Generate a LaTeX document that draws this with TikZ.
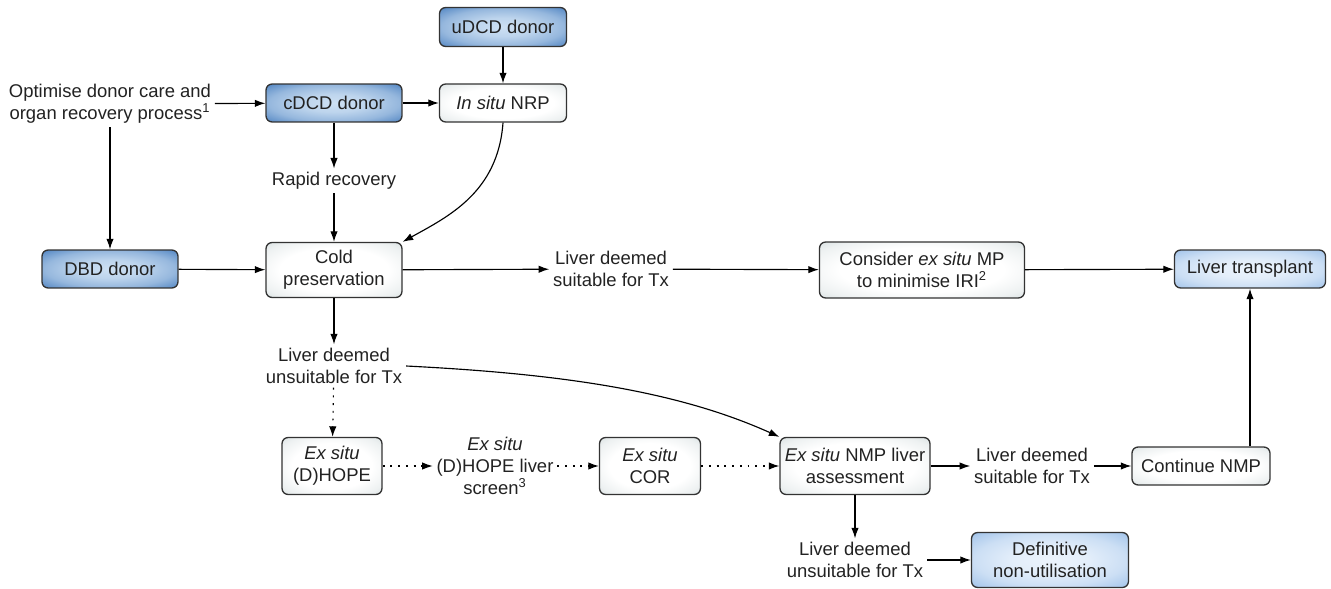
\documentclass[tikz,border=0pt]{standalone}
\usepackage{fontspec}
\setmainfont{Liberation Sans}
\usetikzlibrary{arrows.meta}

\definecolor{boxline}{HTML}{333333}
\definecolor{txtcol}{HTML}{222222}
\definecolor{donorA}{HTML}{CDE0F3}
\definecolor{donorB}{HTML}{2F6CB5}
\definecolor{goalA}{HTML}{EBF3FC}
\definecolor{goalB}{HTML}{8AB4E4}
\definecolor{procA}{HTML}{FFFFFF}
\definecolor{procB}{HTML}{D3DCDD}

\pgfdeclareradialshading{donorglow}{\pgfpoint{0bp}{0bp}}{color(0bp)=(donorA); color(12bp)=(donorA!90!donorB); color(24bp)=(donorA!65!donorB); color(32bp)=(donorA!35!donorB); color(38bp)=(donorB); color(75bp)=(donorB)}
\pgfdeclareradialshading{goalglow}{\pgfpoint{0bp}{0bp}}{color(0bp)=(goalA); color(12bp)=(goalA!92!goalB); color(24bp)=(goalA!68!goalB); color(32bp)=(goalA!38!goalB); color(38bp)=(goalB); color(75bp)=(goalB)}
\pgfdeclareradialshading{procglow}{\pgfpoint{0bp}{0bp}}{color(0bp)=(procA); color(20bp)=(procA); color(30bp)=(procA!60!procB); color(38bp)=(procB); color(75bp)=(procB)}

\tikzset{
  box/.style={draw=boxline, line width=0.75pt, rounded corners=3.5pt, align=center, inner sep=0pt, text=txtcol},
  donor/.style={box, shading=donorglow},
  proc/.style={box, shading=procglow},
  goal/.style={box, shading=goalglow},
  lbl/.style={align=center, inner sep=2pt, text=txtcol},
  arr/.style={-{Latex[length=6pt,width=4.2pt]}, line width=0.65pt},
  dotarr/.style={arr, dash pattern=on 1.1pt off 3.3pt}
}

\begin{document}
\begin{tikzpicture}[x=0.02cm, y=-0.02cm, font=\fontsize{10.5}{12.5}\selectfont]
  \useasboundingbox (0,0) rectangle (1331,588);

  % donors
  \node[donor, minimum width=2.54cm, minimum height=0.78cm] (udcd) at (503,27) {uDCD donor};
  \node[lbl] (optim) at (110,104) {Optimise donor care and\\organ recovery process\textsuperscript{1}};
  \node[donor, minimum width=2.72cm, minimum height=0.76cm] (cdcd) at (334,103) {cDCD donor};
  \node[proc, minimum width=2.54cm, minimum height=0.76cm] (nrp) at (503,103) {\textit{In situ} NRP};
  \node[lbl] (rapid) at (334,181) {Rapid recovery};
  \node[donor, minimum width=2.72cm, minimum height=0.76cm] (dbd) at (110,269) {DBD donor};

  % cold preservation row
  \node[proc, minimum width=2.72cm, minimum height=1.1cm] (cold) at (334,270) {Cold\\preservation};
  \node[lbl] (suit1) at (611,269) {Liver deemed\\suitable for Tx};
  \node[proc, minimum width=4.1cm, minimum height=1.12cm] (consider) at (922,270) {Consider \textit{ex situ} MP\\to minimise IRI\textsuperscript{2}};
  \node[goal, minimum width=3.02cm, minimum height=0.76cm] (tx) at (1250,269) {Liver transplant};

  % ex situ row
  \node[lbl] (unsuit1) at (334,366) {Liver deemed\\unsuitable for Tx};
  \node[proc, minimum width=2.0cm, minimum height=1.14cm] (dhope) at (332,466) {\textit{Ex situ}\\(D)HOPE};
  \node[lbl] (screen) at (495,466) {\textit{Ex situ}\\(D)HOPE liver\\screen\textsuperscript{3}};
  \node[proc, minimum width=2.02cm, minimum height=1.14cm] (cor) at (650,466) {\textit{Ex situ}\\COR};
  \node[proc, minimum width=3.0cm, minimum height=1.14cm] (nmp) at (855,466) {\textit{Ex situ} NMP liver\\assessment};
  \node[lbl] (suit2) at (1032,466) {Liver deemed\\suitable for Tx};
  \node[proc, minimum width=2.76cm, minimum height=0.76cm] (cont) at (1201,466) {Continue NMP};
  \node[lbl] (unsuit2) at (855,560) {Liver deemed\\unsuitable for Tx};
  \node[goal, minimum width=3.14cm, minimum height=1.1cm] (defin) at (1050,560) {Definitive\\non-utilisation};

  \draw[arr] (udcd) -- (nrp); \draw[arr] (optim) -- (cdcd); \draw[arr] (cdcd) -- (nrp);
  \draw[arr] (optim) -- (dbd); \draw[arr] (cdcd) -- (rapid); \draw[arr] (rapid) -- (cold);
  \draw[arr] (nrp.south) .. controls +(-5,70) and +(45,-25) .. (cold.north east);
  \draw[arr] (dbd) -- (cold); \draw[arr] (cold) -- (suit1); \draw[arr] (suit1) -- (consider); \draw[arr] (consider) -- (tx);
  \draw[arr] (cold) -- (unsuit1); \draw[dotarr] (unsuit1) -- (dhope);
  \draw[arr] (unsuit1.east) .. controls +(160,8) and +(-100,-45) .. (nmp.north west);
  \draw[dotarr] (dhope) -- (screen); \draw[dotarr] (screen) -- (cor); \draw[dotarr] (cor) -- (nmp);
  \draw[arr] (nmp) -- (suit2); \draw[arr] (suit2) -- (cont); \draw[arr] (tx.south |- cont.north) -- (tx.south);
  \draw[arr] (nmp) -- (unsuit2); \draw[arr] (unsuit2) -- (defin);
\end{tikzpicture}
\end{document}
